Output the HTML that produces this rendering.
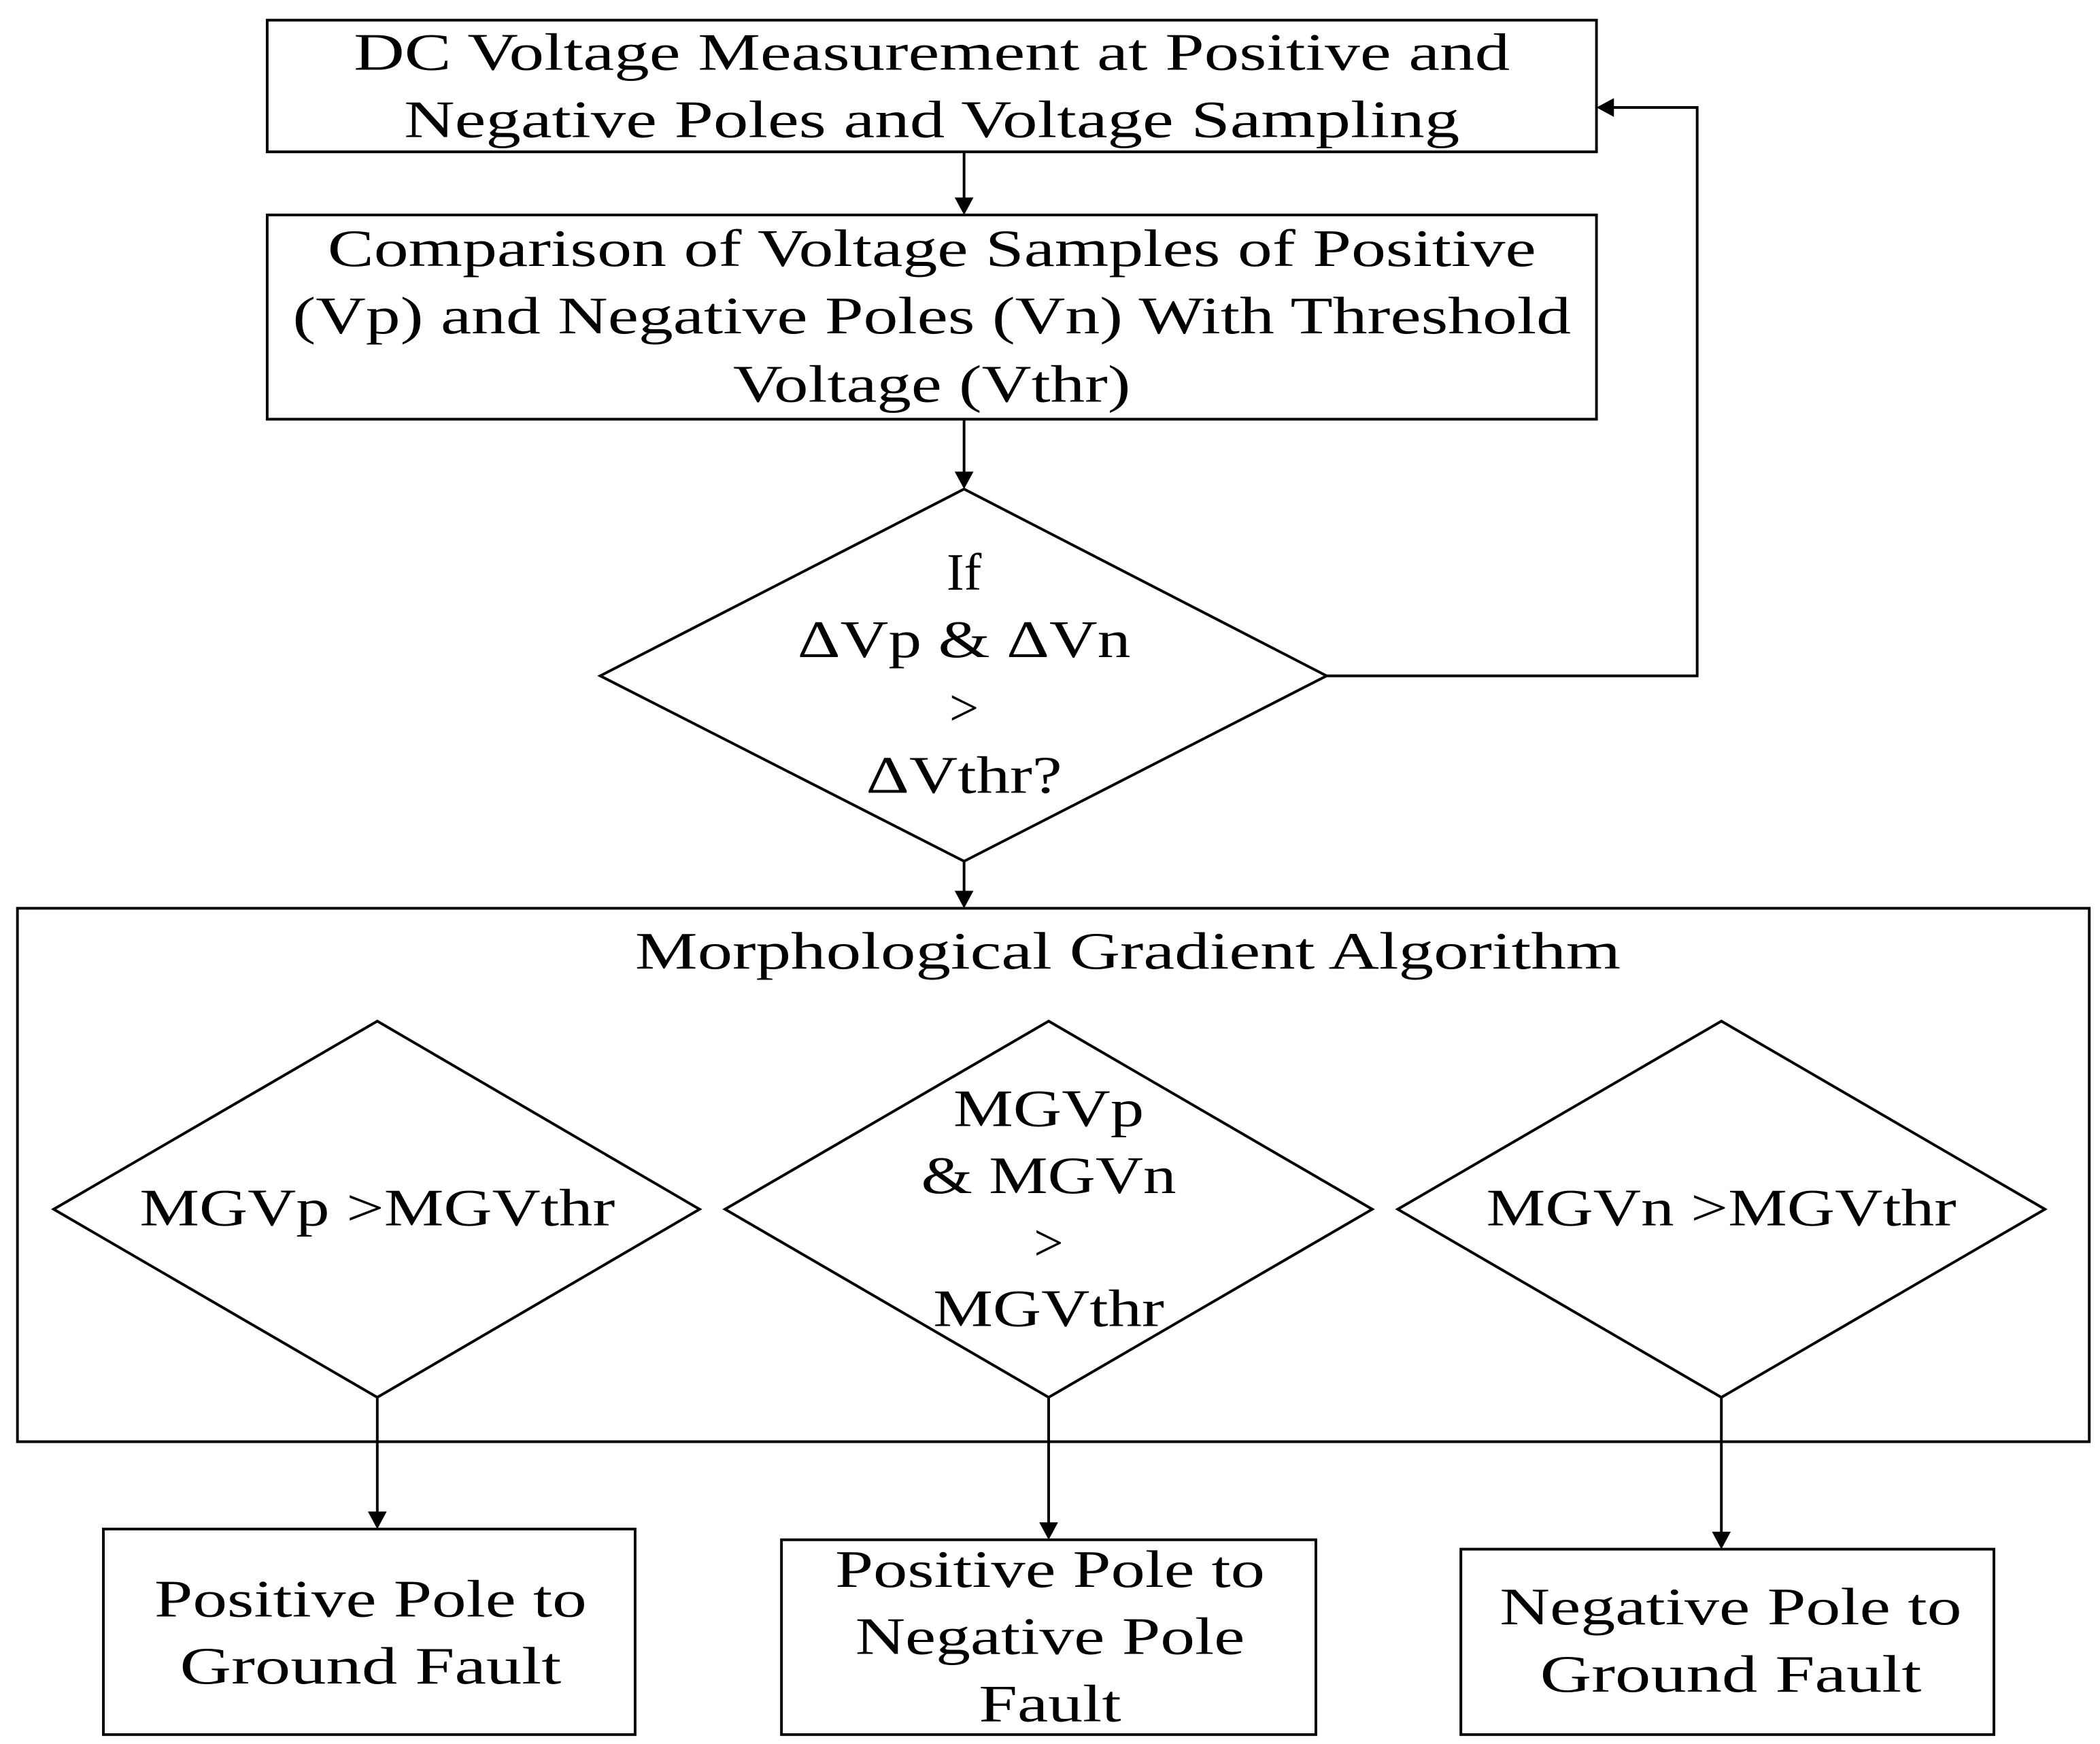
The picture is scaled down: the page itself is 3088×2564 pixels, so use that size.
<!DOCTYPE html>
<html><head><meta charset="utf-8"><style>
html,body{margin:0;padding:0;background:#fff;}
svg{display:block;}
text{font-family:"Liberation Serif","DejaVu Serif",serif;font-size:39px;fill:#000;text-anchor:middle;}
</style></head><body>
<svg width="3088" height="2564" viewBox="0 0 1564 1298" preserveAspectRatio="none" xmlns="http://www.w3.org/2000/svg">
<defs><marker id="a" markerWidth="10" markerHeight="10" refX="9" refY="5" orient="auto" markerUnits="userSpaceOnUse"><path d="M0,0 L10,5 L0,10 z" fill="#000" transform="scale(1.4) translate(-3,-1.5)"/></marker></defs>
<g fill="none" stroke="#000" stroke-width="2">
<rect x="199" y="15" width="990" height="98"/>
<rect x="199" y="160" width="990" height="152"/>
<polygon points="718,364 988,503 718,641 447,503"/>
<rect x="13" y="676" width="1543" height="397"/>
<polygon points="281,760 521,900 281,1040 40,900"/>
<polygon points="781,760 1022,900 781,1040 540,900"/>
<polygon points="1282,760 1523,900 1282,1040 1041,900"/>
<rect x="77" y="1138" width="396" height="153"/>
<rect x="582" y="1146" width="398" height="145"/>
<rect x="1088" y="1153" width="397" height="138"/>
<polyline points="988,503 1264,503 1264,80 1192,80"/>
<line x1="718" y1="113" x2="718" y2="148"/>
<line x1="718" y1="312" x2="718" y2="352"/>
<line x1="718" y1="641" x2="718" y2="664"/>
<line x1="281" y1="1040" x2="281" y2="1126"/>
<line x1="781" y1="1040" x2="781" y2="1134"/>
<line x1="1282" y1="1040" x2="1282" y2="1141"/>
</g>
<g fill="#000">
<path d="M711,147 L725,147 L718,160 z"/>
<path d="M711,351 L725,351 L718,364 z"/>
<path d="M711,663 L725,663 L718,676 z"/>
<path d="M274,1125 L288,1125 L281,1138 z"/>
<path d="M774,1133 L788,1133 L781,1146 z"/>
<path d="M1275,1140 L1289,1140 L1282,1153 z"/>
<path d="M1202,73 L1202,87 L1189,80 z"/>
</g>
<text x="694" y="52" textLength="861" lengthAdjust="spacingAndGlyphs">DC Voltage Measurement at Positive and</text>
<text x="694" y="102" textLength="786" lengthAdjust="spacingAndGlyphs">Negative Poles and Voltage Sampling</text>
<text x="694" y="198" textLength="900" lengthAdjust="spacingAndGlyphs">Comparison of Voltage Samples of Positive</text>
<text x="694" y="248" textLength="952" lengthAdjust="spacingAndGlyphs">(Vp) and Negative Poles (Vn) With Threshold</text>
<text x="694" y="299" textLength="296" lengthAdjust="spacingAndGlyphs">Voltage (Vthr)</text>
<text x="718" y="439">If</text>
<text x="718" y="489" textLength="248" lengthAdjust="spacingAndGlyphs">ΔVp &amp; ΔVn</text>
<text x="718" y="540">&gt;</text>
<text x="718" y="590" textLength="146" lengthAdjust="spacingAndGlyphs">ΔVthr?</text>
<text x="840" y="721" textLength="734" lengthAdjust="spacingAndGlyphs">Morphological Gradient Algorithm</text>
<text x="281" y="912" textLength="354" lengthAdjust="spacingAndGlyphs">MGVp &gt;MGVthr</text>
<text x="781" y="838" textLength="142" lengthAdjust="spacingAndGlyphs">MGVp</text>
<text x="781" y="888" textLength="190" lengthAdjust="spacingAndGlyphs">&amp; MGVn</text>
<text x="781" y="938">&gt;</text>
<text x="781" y="987" textLength="172" lengthAdjust="spacingAndGlyphs">MGVthr</text>
<text x="1282" y="912" textLength="350" lengthAdjust="spacingAndGlyphs">MGVn &gt;MGVthr</text>
<text x="276" y="1203" textLength="322" lengthAdjust="spacingAndGlyphs">Positive Pole to</text>
<text x="276" y="1253" textLength="284" lengthAdjust="spacingAndGlyphs">Ground Fault</text>
<text x="782" y="1181" textLength="320" lengthAdjust="spacingAndGlyphs">Positive Pole to</text>
<text x="782" y="1231" textLength="290" lengthAdjust="spacingAndGlyphs">Negative Pole</text>
<text x="782" y="1281" textLength="106" lengthAdjust="spacingAndGlyphs">Fault</text>
<text x="1289" y="1209" textLength="344" lengthAdjust="spacingAndGlyphs">Negative Pole to</text>
<text x="1289" y="1259" textLength="284" lengthAdjust="spacingAndGlyphs">Ground Fault</text>
</svg>
</body></html>
